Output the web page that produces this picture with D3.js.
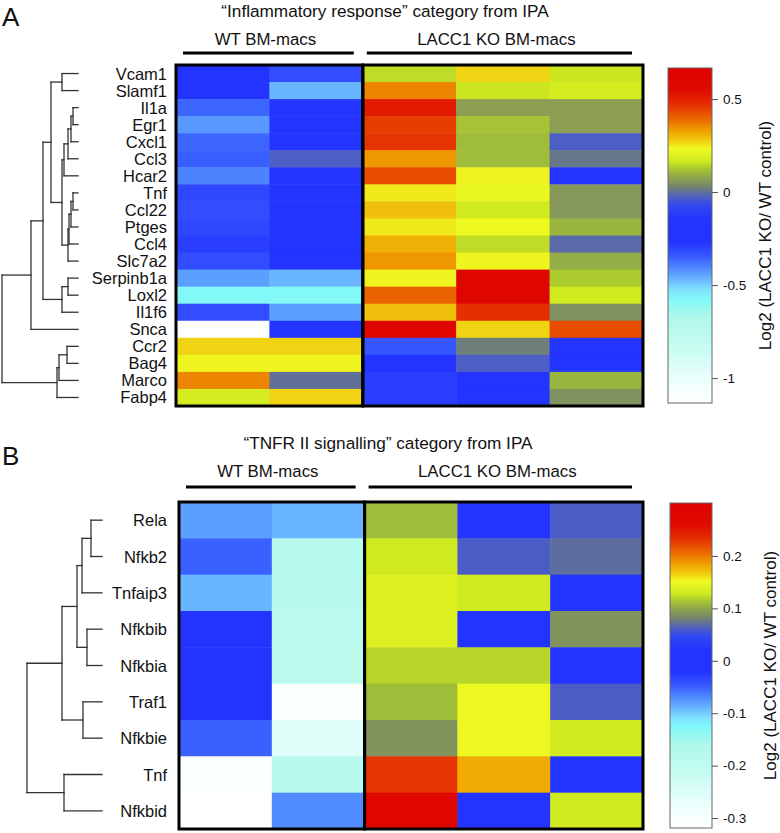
<!DOCTYPE html>
<html><head><meta charset="utf-8">
<script src="https://cdn.jsdelivr.net/npm/d3@7"></script>
<style>
html,body{margin:0;padding:0;background:#fff;}
text{font-family:"Liberation Sans",Arial,Helvetica,sans-serif;fill:#111;}
</style></head>
<body><svg id="chart" width="780" height="833"></svg>
<script>
// ---------------- DATA ----------------
const groupNames = ["WT BM-macs", "LACC1 KO BM-macs"];
const groupSizes = [2, 3];
const columns = ["WT-1", "WT-2", "KO-1", "KO-2", "KO-3"];

// Panel A
const titleA = "\u201CInflammatory response\u201D category from IPA";
const rowsA = ["Vcam1","Slamf1","Il1a","Egr1","Cxcl1","Ccl3","Hcar2","Tnf","Ccl22","Ptges","Ccl4","Slc7a2","Serpinb1a","Loxl2","Il1f6","Snca","Ccr2","Bag4","Marco","Fabp4"];
const wt1A = [-0.20,-0.20,-0.36,-0.43,-0.36,-0.35,-0.40,-0.31,-0.32,-0.31,-0.29,-0.32,-0.44,-0.58,-0.32,-1.13,0.27,0.24,0.36,0.18];
const wt2A = [-0.32,-0.47,-0.18,-0.18,-0.22,-0.03,-0.18,-0.18,-0.18,-0.25,-0.25,-0.25,-0.47,-0.58,-0.44,-0.22,0.27,0.24,0.00,0.27];
const ko1A = [0.15,0.36,0.51,0.45,0.46,0.34,0.43,0.25,0.29,0.25,0.31,0.34,0.24,0.40,0.29,0.60,-0.34,-0.22,-0.29,-0.29];
const ko2A = [0.27,0.16,0.07,0.12,0.11,0.11,0.24,0.22,0.17,0.23,0.15,0.24,0.60,0.60,0.47,0.27,0.02,-0.03,-0.16,-0.25];
const ko3A = [0.16,0.18,0.07,0.07,-0.03,0.01,-0.20,0.06,0.06,0.10,-0.01,0.09,0.13,0.17,0.05,0.43,-0.20,-0.20,0.10,0.05];
const rangeA = [-1.134, 0.667];
const ticksA = [0.5, 0, -0.5, -1];
// dendrogram merges: [childA, childB, height]; strings = leaves, numbers = earlier merge index
const mergesA = [
  ["Vcam1","Slamf1",16], ["Il1a","Egr1",5], [1,"Cxcl1",7], [2,"Ccl3",10], [3,"Hcar2",14],
  ["Tnf","Ccl22",5], [5,"Ptges",7], [6,"Ccl4",9], [7,"Slc7a2",10], [4,8,16], [0,9,27],
  ["Serpinb1a","Loxl2",10], [11,"Il1f6",16], [10,12,35], [13,"Snca",47],
  ["Ccr2","Bag4",11], [15,"Marco",19], [16,"Fabp4",21], [14,17,76]
];

// Panel B
const titleB = "\u201CTNFR II signalling\u201D category from IPA";
const rowsB = ["Rela","Nfkb2","Tnfaip3","Nfkbib","Nfkbia","Traf1","Nfkbie","Tnf","Nfkbid"];
const wt1B = [-0.08,-0.05,-0.09,0.00,0.00,0.01,-0.05,-0.31,-0.32];
const wt2B = [-0.09,-0.18,-0.18,-0.19,-0.19,-0.31,-0.26,-0.18,-0.07];
const ko1B = [0.11,0.13,0.14,0.14,0.12,0.11,0.09,0.23,0.28];
const ko2B = [0.00,0.06,0.13,0.00,0.12,0.15,0.15,0.18,0.00];
const ko3B = [0.06,0.07,0.00,0.09,0.02,0.06,0.13,0.00,0.13];
const rangeB = [-0.319, 0.301];
const ticksB = [0.2, 0.1, 0, -0.1, -0.2, -0.3];
const mergesB = [
  ["Rela","Nfkb2",11], [0,"Tnfaip3",20], ["Nfkbib","Nfkbia",15], [1,2,25],
  ["Traf1","Nfkbie",19], [3,4,40], ["Tnf","Nfkbid",38], [5,6,75]
];

const colorbarTitle = "Log2 (LACC1 KO/ WT control)";
// palette (fraction of colour-bar range -> colour)
const stopPos = [0.00,0.08,0.17,0.255,0.31,0.34,0.37,0.41,0.44,0.48,0.55,0.59,0.615,0.63,0.645,0.67,0.70,0.72,0.76,0.785,0.81,0.84,0.885,0.93,1.00];
const stopCol = ["#ffffff","#e8fefc","#c4fcf0","#b0f8ea","#80f8f8","#80e0ff","#68b4ff","#4a80ff","#3658ff","#2434ff","#2434ff","#3048f0","#5060c0","#607098","#738470","#8ca050","#a8c830","#cce820","#f0fa20","#f0c810","#f0a400","#ec7400","#e63400","#e00c00","#e00000"];

// ---------------- DRAW ----------------
const svg = d3.select("#chart");
const defs = svg.append("defs");

function panel(cfg) {
  const g = svg.append("g");
  const [lo, hi] = cfg.range;
  const color = d3.scaleLinear().domain(stopPos.map(f => lo + f * (hi - lo))).range(stopCol).interpolate(d3.interpolateRgb).clamp(true);

  const x = d3.scaleBand().domain(columns).range(cfg.hx).paddingInner(0);
  const y = d3.scaleBand().domain(cfg.rows).range(cfg.hy).paddingInner(0);

  // panel letter & title
  g.append("text").attr("x", cfg.letterPos[0]).attr("y", cfg.letterPos[1]).attr("font-size", 26).text(cfg.letter);
  g.append("text").attr("x", cfg.titlePos[0]).attr("y", cfg.titlePos[1]).attr("text-anchor", "middle").attr("font-size", 17.2).text(cfg.title);

  // cells
  const cells = [];
  cfg.values.forEach((col, ci) => col.forEach((v, ri) => cells.push({c: columns[ci], r: cfg.rows[ri], v})));
  g.append("g").selectAll("rect").data(cells).join("rect")
    .attr("x", d => x(d.c)).attr("y", d => y(d.r))
    .attr("width", x.bandwidth() + 0.5).attr("height", y.bandwidth() + 0.5)
    .attr("fill", d => color(d.v));

  // borders
  let start = 0;
  groupSizes.forEach((n, gi) => {
    const x0 = x(columns[start]), x1 = x(columns[start + n - 1]) + x.bandwidth();
    g.append("rect").attr("x", x0).attr("y", cfg.hy[0]).attr("width", x1 - x0).attr("height", cfg.hy[1] - cfg.hy[0])
      .attr("fill", "none").attr("stroke", "#000").attr("stroke-width", 3);
    const lx0 = x0 + (gi === 0 ? 7 : 4), lx1 = x1 - (gi === 0 ? 9 : 11);
    g.append("line").attr("x1", lx0).attr("x2", lx1).attr("y1", cfg.lineY).attr("y2", cfg.lineY)
      .attr("stroke", "#000").attr("stroke-width", 3);
    g.append("text").attr("x", (lx0 + lx1) / 2 - 3).attr("y", cfg.groupLabelY).attr("text-anchor", "middle")
      .attr("font-size", 16.8).text(groupNames[gi]);
    start += n;
  });

  // row labels
  g.append("g").selectAll("text").data(cfg.rows).join("text")
    .attr("x", cfg.labelX).attr("y", d => y(d) + y.bandwidth() / 2 + 6)
    .attr("text-anchor", "end").attr("font-size", 16.5).text(d => d);

  // dendrogram
  const hx = d3.scaleLinear().domain([0, d3.max(cfg.merges, m => m[2])]).range(cfg.dendroX);
  const nodes = [];
  const pos = ref => typeof ref === "string" ? {x: hx(0), y: y(ref) + y.bandwidth() / 2} : nodes[ref];
  const segs = [];
  cfg.merges.forEach(([a, b, h]) => {
    const pa = pos(a), pb = pos(b), nx = hx(h);
    segs.push([pa.x, pa.y, nx, pa.y], [pb.x, pb.y, nx, pb.y], [nx, pa.y, nx, pb.y]);
    nodes.push({x: nx, y: (pa.y + pb.y) / 2});
  });
  g.append("g").selectAll("line").data(segs).join("line")
    .attr("x1", d => d[0]).attr("y1", d => d[1]).attr("x2", d => d[2]).attr("y2", d => d[3])
    .attr("stroke", "#333").attr("stroke-width", 1.3).attr("stroke-linecap", "square");

  // colour bar
  const gid = "grad" + cfg.letter;
  const grad = defs.append("linearGradient").attr("id", gid).attr("x1", 0).attr("y1", 1).attr("x2", 0).attr("y2", 0);
  grad.selectAll("stop").data(stopPos).join("stop").attr("offset", d => d).attr("stop-color", (d, i) => stopCol[i]);
  const cb = cfg.cbar;
  g.append("rect").attr("x", cb.x).attr("y", cb.y0).attr("width", cb.w).attr("height", cb.y1 - cb.y0)
    .attr("fill", `url(#${gid})`).attr("stroke", "#666").attr("stroke-width", 1);
  const cs = d3.scaleLinear().domain([lo, hi]).range([cb.y1, cb.y0]);
  const ax = g.append("g").attr("transform", `translate(${cb.x + cb.w},0)`)
    .call(d3.axisRight(cs).tickValues(cfg.ticks).tickSize(6).tickPadding(5).tickFormat(d => String(d)));
  ax.select(".domain").remove();
  ax.selectAll(".tick line").attr("stroke", "#555");
  ax.selectAll(".tick text").attr("font-size", 13.5).attr("fill", "#111")
    .attr("font-family", '"Liberation Sans",Arial,sans-serif');
  g.append("text").attr("transform", `translate(${cb.titleX},${(cb.y0 + cb.y1) / 2}) rotate(-90)`)
    .attr("text-anchor", "middle").attr("dy", "0.35em").attr("font-size", 17).text(colorbarTitle);
}

panel({
  letter: "A", letterPos: [2, 26], title: titleA, titlePos: [385, 17],
  rows: rowsA, values: [wt1A, wt2A, ko1A, ko2A, ko3A], range: rangeA, ticks: ticksA, merges: mergesA,
  hx: [176, 643], hy: [65, 406], lineY: 53, groupLabelY: 45, labelX: 167, dendroX: [78, 2],
  cbar: {x: 668, w: 44, y0: 68, y1: 403, titleX: 765}
});
panel({
  letter: "B", letterPos: [2, 465], title: titleB, titlePos: [388, 449],
  rows: rowsB, values: [wt1B, wt2B, ko1B, ko2B, ko3B], range: rangeB, ticks: ticksB, merges: mergesB,
  hx: [179, 643], hy: [502, 829], lineY: 487, groupLabelY: 477, labelX: 167, dendroX: [102, 27],
  cbar: {x: 670, w: 42, y0: 503, y1: 828, titleX: 770}
});
</script></body></html>
